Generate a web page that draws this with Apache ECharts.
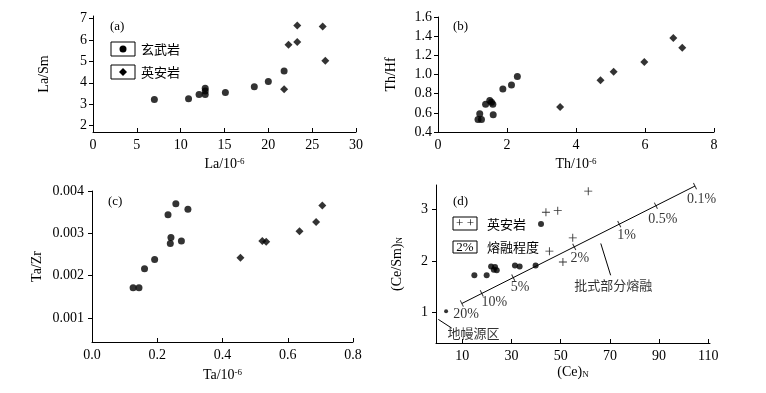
<!DOCTYPE html>
<html>
<head>
<meta charset="utf-8">
<script src="https://cdn.jsdelivr.net/npm/echarts@6/dist/echarts.min.js"></script>
<style>
  html,body{margin:0;padding:0;background:#fff;}
  #main{width:766px;height:393px;}
</style>
</head>
<body>
<div id="main"></div>
<script>
// (a) La - La/Sm
let aBasalt = [[7.0,3.22],[10.9,3.25],[12.1,3.45],[12.8,3.45],[12.8,3.62],[12.8,3.75],[15.1,3.55],[18.4,3.82],[20.0,4.06],[21.8,4.55]];
let aDacite = [[21.8,3.7],[22.3,5.78],[23.3,6.68],[23.3,5.9],[26.2,6.63],[26.5,5.03]];
// (b) Th - Th/Hf
let bBasalt = [[1.16,0.53],[1.26,0.53],[1.21,0.59],[1.38,0.69],[1.5,0.73],[1.55,0.71],[1.59,0.69],[1.6,0.58],[1.88,0.85],[2.13,0.89],[2.3,0.98]];
let bDacite = [[3.54,0.66],[4.71,0.94],[5.09,1.03],[5.98,1.13],[6.82,1.38],[7.08,1.28]];
// (c) Ta - Ta/Zr
let cBasalt = [[0.126,0.00171],[0.144,0.00171],[0.161,0.00216],[0.192,0.00238],[0.233,0.00344],[0.257,0.0037],[0.294,0.00357],[0.242,0.0029],[0.24,0.00276],[0.274,0.00282]];
let cDacite = [[0.455,0.00242],[0.522,0.00282],[0.534,0.0028],[0.636,0.00305],[0.687,0.00327],[0.706,0.00366]];
// (d) (Ce)N - (Ce/Sm)N
let dDacite = [[61.2,3.36],[44.0,2.95],[48.8,2.98],[54.9,2.45],[45.4,2.19],[50.9,1.98]];
let dBasalt = [[42.0,2.72],[14.9,1.72],[19.9,1.72],[21.7,1.89],[23.3,1.88],[24.0,1.82],[22.8,1.83],[31.4,1.91],[33.3,1.89],[39.8,1.91]];
let dSource = [[3.4,1.02]];
// 批式部分熔融曲线
let meltLine = [[9.8,1.17],[104.6,3.46]];
let meltTicks = [[9.8,1.17],[17.9,1.366],[30.7,1.675],[55.5,2.274],[73.8,2.716],[88.7,3.076],[104.6,3.46]];
let meltNames = ['20%','10%','5%','2%','1%','0.5%','0.1%'];
let meltLabelPos = [[11.5,0.95],[23.0,1.19],[33.5,1.48],[57.8,2.05],[76.8,2.49],[91.5,2.81],[107.3,3.2]];
let noteNames = ['批式部分熔融','地幔源区'];
let notePos = [[71.4,1.53],[14.5,0.6]];
let noteLines = [[[66.3,2.34],[70.3,1.72]],[[0.24,0.86],[5.7,0.69]]];

let serif = 'Liberation Serif, DejaVu Serif, serif';
let cjk = 'Noto Sans CJK SC';
let plus = 'path://M4,0h1v9h-1z M0,4h9v1h-9z';

function xAx(i, min, max, name, gap, extra) {
    let ax = {
        type:'value', gridIndex:i, min:min, max:max,
        axisLine:{show:true, onZero:false, lineStyle:{color:'#000', width:1}},
        axisTick:{show:true, inside:true, length:4, lineStyle:{color:'#000'}},
        axisLabel:{color:'#000', fontFamily:serif, fontSize:14, margin:6},
        splitLine:{show:false},
        name:name, nameLocation:'middle', nameGap:gap,
        nameTextStyle:{color:'#000', fontFamily:serif, fontSize:14,
            rich:{s:{fontSize:9, verticalAlign:'top', fontFamily:serif, color:'#000'},
                  n:{fontSize:9, verticalAlign:'bottom', fontFamily:serif, color:'#000'}}}
    };
    return Object.assign(ax, extra || {});
}
function yAx(i, min, max, name, gap, extra) {
    let ax = xAx(i, min, max, name, gap, extra);
    ax.axisTick = Object.assign({show:true, inside:false, length:4, lineStyle:{color:'#000'}}, (extra && extra.axisTick) || {});
    ax.nameRotate = 90;
    return ax;
}

let sc = function (i, data, sym, size) {
    return {type:'scatter', xAxisIndex:i, yAxisIndex:i, data:data, symbol:sym, symbolSize:size,
        itemStyle:{color:'#000'}, silent:true, animation:false};
};

let series = [
    sc(0, aBasalt, 'circle', 7), sc(0, aDacite, 'diamond', 8),
    sc(1, bBasalt, 'circle', 7), sc(1, bDacite, 'diamond', 8),
    sc(2, cBasalt, 'circle', 7), sc(2, cDacite, 'diamond', 8),
    sc(3, dBasalt, 'circle', 6), sc(3, dDacite, plus, 8), sc(3, dSource, 'circle', 4),
    {type:'line', xAxisIndex:3, yAxisIndex:3, data:meltLine, showSymbol:false, symbol:'none',
        lineStyle:{color:'#000', width:1}, silent:true, animation:false},
    {type:'scatter', xAxisIndex:3, yAxisIndex:3, data:meltTicks, symbol:'rect', symbolSize:[1,7],
        symbolRotate:26.8, itemStyle:{color:'#000'}, silent:true, animation:false}
];
// 熔融程度标注
series.push({type:'scatter', xAxisIndex:3, yAxisIndex:3, symbolSize:0, silent:true, animation:false,
    data:meltLabelPos.map(function (p, k) { return {value:p, name:meltNames[k]}; }),
    label:{show:true, position:'inside', formatter:'{b}', color:'#000', fontFamily:serif, fontSize:14}});
series.push({type:'scatter', xAxisIndex:3, yAxisIndex:3, symbolSize:0, silent:true, animation:false,
    data:notePos.map(function (p, k) { return {value:p, name:noteNames[k]}; }),
    label:{show:true, position:'inside', formatter:'{b}', color:'#000', fontFamily:cjk, fontSize:13}});
noteLines.forEach(function (l) {
    series.push({type:'line', xAxisIndex:3, yAxisIndex:3, data:l, symbol:'none',
        lineStyle:{color:'#000', width:1}, silent:true, animation:false});
});

let txt = function (x, y, t, f, align) {
    return {type:'text', x:x, y:y, silent:true,
        style:{text:t, fill:'#000', fontFamily:f || serif, fontSize:13, verticalAlign:'middle', align:align || 'left'}};
};
let graphics = [
    txt(110, 27, '(a)'), txt(453, 27, '(b)'), txt(108, 202, '(c)'), txt(453, 202, '(d)'),
    // (a) 图例
    {type:'rect', shape:{x:111, y:42, width:24, height:14}, style:{fill:'#fff', stroke:'#000', lineWidth:1}},
    {type:'circle', shape:{cx:123, cy:49, r:3.5}, style:{fill:'#000'}},
    {type:'rect', shape:{x:111, y:65, width:24, height:14}, style:{fill:'#fff', stroke:'#000', lineWidth:1}},
    {type:'polygon', shape:{points:[[123,68],[127,72],[123,76],[119,72]]}, style:{fill:'#000'}},
    txt(141, 49, '玄武岩', cjk), txt(141, 72, '英安岩', cjk),
    // (d) 图例
    {type:'rect', shape:{x:453, y:217, width:24, height:13}, style:{fill:'#fff', stroke:'#000', lineWidth:1}},
    txt(465, 223.5, '+ +', serif, 'center'),
    {type:'rect', shape:{x:453, y:241, width:24, height:12}, style:{fill:'#fff', stroke:'#000', lineWidth:1}},
    txt(465, 247.5, '2%', serif, 'center'),
    txt(487, 224, '英安岩', cjk), txt(487, 247, '熔融程度', cjk)
];

let myChart = echarts.init(document.getElementById('main'));
let option = {
    backgroundColor:'#fff',
    animation:false,
    grid:[
        {left:93, top:16, right:410, bottom:261},
        {left:438, top:17, right:52, bottom:261},
        {left:92, top:191, right:413, bottom:51},
        {left:436, top:185, right:56, bottom:50}
    ],
    xAxis:[
        xAx(0, 0, 30, 'La/10{s|-6}', 25, {interval:5}),
        xAx(1, 0, 8, 'Th/10{s|-6}', 25, {interval:2}),
        xAx(2, 0, 0.8, 'Ta/10{s|-6}', 26, {interval:0.2,
            axisLabel:{color:'#000', fontFamily:serif, fontSize:14, margin:6, formatter:function (v) { return v.toFixed(1); }}}),
        xAx(3, -0.7, 110.7, '(Ce){n|N}', 22, {
            axisLabel:{color:'#000', fontFamily:serif, fontSize:14, margin:6, customValues:[10,30,50,70,90,110]},
            axisTick:{show:true, inside:true, length:4, lineStyle:{color:'#000'}, customValues:[10,30,50,70,90,110]}})
    ],
    yAxis:[
        yAx(0, 1.7, 7.12, 'La/Sm', 42, {
            axisLabel:{color:'#000', fontFamily:serif, fontSize:14, margin:6, customValues:[2,3,4,5,6,7]},
            axisTick:{customValues:[2,3,4,5,6,7]}}),
        yAx(1, 0.4, 1.6, 'Th/Hf', 40, {interval:0.2,
            axisLabel:{color:'#000', fontFamily:serif, fontSize:14, margin:6, formatter:function (v) { return v.toFixed(1); }}}),
        yAx(2, 0.00043, 0.004, 'Ta/Zr', 48, {
            axisLabel:{color:'#000', fontFamily:serif, fontSize:14, margin:8, customValues:[0.001,0.002,0.003,0.004],
                formatter:function (v) { return v.toFixed(3); }},
            axisTick:{customValues:[0.001,0.002,0.003,0.004]}}),
        yAx(3, 0.4, 3.48, '(Ce/Sm){n|N}', 32, {
            axisLabel:{color:'#000', fontFamily:serif, fontSize:14, margin:8, customValues:[1,2,3]},
            axisTick:{customValues:[1,2,3]}})
    ],
    graphic:graphics,
    series:series
};
myChart.setOption(option);
</script>
</body>
</html>
